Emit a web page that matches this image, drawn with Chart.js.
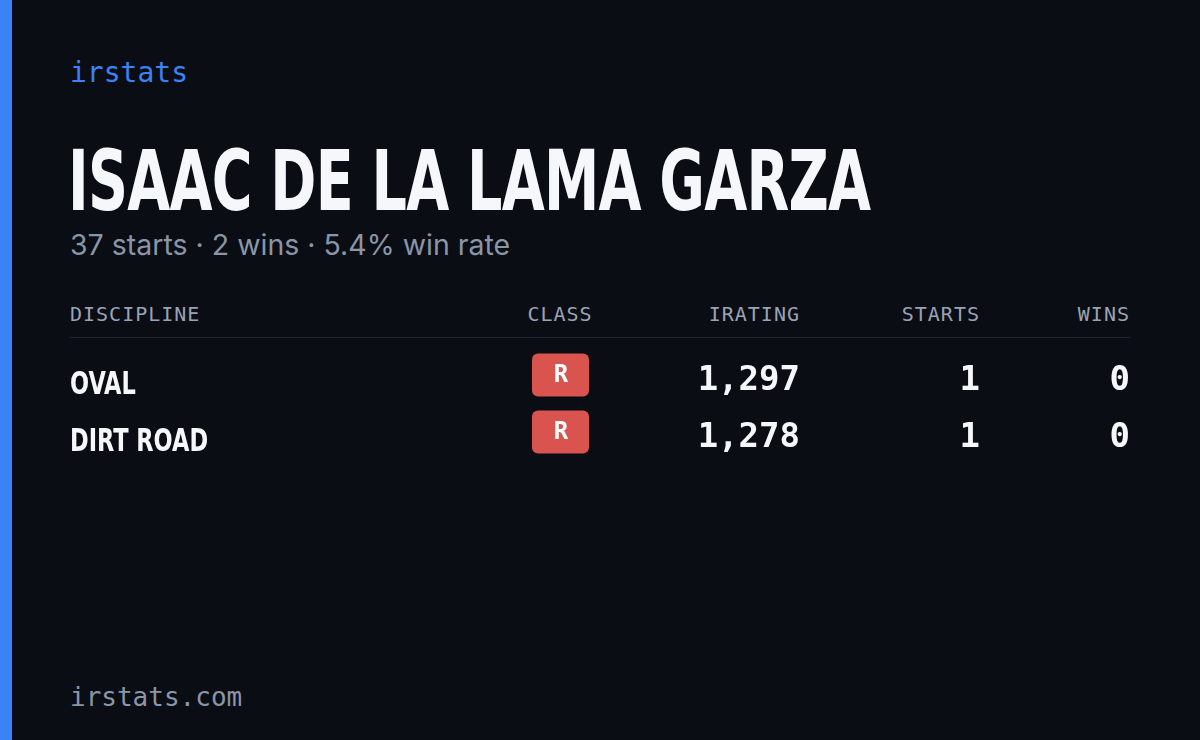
<!DOCTYPE html>
<html>
<head>
<meta charset="utf-8">
<script src="https://cdn.jsdelivr.net/npm/chart.js@4"></script>
<style>
  body { margin: 0; width: 1200px; height: 740px; background: #0a0d14; position: relative; overflow: hidden; font-family: Inter, sans-serif; }
  .bar { position: absolute; left: 0; top: 0; width: 12px; height: 740px; background: #3b82f6; }
  .brand { position: absolute; left: 70px; top: 56px; font: 28px "DejaVu Sans Mono", monospace; color: #3b82f6; }
  .title { position: absolute; left: 68px; top: 132px; font: bold 84px "DejaVu Sans", sans-serif; font-stretch: condensed; color: #f5f7fb; transform: scaleX(0.735); transform-origin: left top; white-space: nowrap; letter-spacing: -1px; }
  .sub { position: absolute; left: 70px; top: 227px; font: 28.5px Inter, sans-serif; color: #8b95a8; }
  .hdr { position: absolute; top: 302px; font: 20px "DejaVu Sans Mono", monospace; color: #9aa3b5; letter-spacing: 1px; }
  .rule { position: absolute; left: 70px; top: 337px; width: 1060px; height: 1px; background: #1f2430; }
  .foot { position: absolute; left: 70px; top: 682px; font: 26px "DejaVu Sans Mono", monospace; color: #8b95a8; }
  #wrap { position: absolute; left: 70px; top: 351px; width: 1060px; height: 114px; }
</style>
</head>
<body>
<div class="bar"></div>
<div class="brand">irstats</div>
<div class="title">ISAAC DE LA LAMA GARZA</div>
<div class="sub">37 starts · 2 wins · 5.4% win rate</div>
<div class="hdr" style="left:70px">DISCIPLINE</div>
<div class="hdr" style="left:490px;width:140px;text-align:center">CLASS</div>
<div class="hdr" style="right:400px">IRATING</div>
<div class="hdr" style="right:220px">STARTS</div>
<div class="hdr" style="right:70px">WINS</div>
<div class="rule"></div>
<div class="foot">irstats.com</div>
<div id="wrap"><canvas id="c"></canvas></div>
<script>
// ---------- data ----------
const disciplines = ["OVAL", "DIRT ROAD"];
const classes = ["R", "R"];
const iratings = [1297, 1278];
const starts = [1, 1];
const wins = [0, 0];

// column anchors in x-scale units (layout)
const COL = { name: 0, cls: 490, ir: 730, st: 910, wn: 1060 };

function fmt(n) {
  return n.toString().replace(/\B(?=(\d{3})+(?!\d))/g, ",");
}

const tablePlugin = {
  id: "table",
  afterDraw(chart) {
    const ctx = chart.ctx;
    const xs = chart.scales.x, ys = chart.scales.y;
    ctx.save();
    ctx.textBaseline = "middle";
    disciplines.forEach((d, i) => {
      const y = ys.getPixelForValue(i);
      // discipline
      ctx.fillStyle = "#f5f7fb";
      ctx.textAlign = "left";
      ctx.font = "bold 32px 'DejaVu Sans Condensed', 'DejaVu Sans', sans-serif";
      ctx.save();
      ctx.translate(xs.getPixelForValue(COL.name), y + 6);
      ctx.scale(0.78, 1);
      ctx.fillText(d, 0, 0);
      ctx.restore();
      // class badge
      const cx = xs.getPixelForValue(COL.cls);
      ctx.fillStyle = "#d9534f";
      ctx.beginPath();
      ctx.roundRect(cx - 28, y - 26, 57, 43, 6);
      ctx.fill();
      ctx.fillStyle = "#ffffff";
      ctx.textAlign = "center";
      ctx.font = "bold 24px 'DejaVu Sans Mono', monospace";
      ctx.fillText(classes[i], cx + 1, y - 4);
      // numbers
      ctx.fillStyle = "#f5f7fb";
      ctx.textAlign = "right";
      ctx.font = "bold 34px 'DejaVu Sans Mono', monospace";
      ctx.fillText(fmt(iratings[i]), xs.getPixelForValue(COL.ir), y + 2);
      ctx.fillText(String(starts[i]), xs.getPixelForValue(COL.st), y + 2);
      ctx.fillText(String(wins[i]), xs.getPixelForValue(COL.wn), y + 2);
    });
    ctx.restore();
  }
};

new Chart(document.getElementById("c"), {
  type: "scatter",
  data: {
    labels: disciplines,
    datasets: [{ data: disciplines.map((d, i) => ({ x: COL.name, y: i })), pointRadius: 0 }]
  },
  options: {
    responsive: true,
    maintainAspectRatio: false,
    animation: false,
    layout: { padding: 0 },
    plugins: { legend: { display: false }, tooltip: { enabled: false } },
    scales: {
      x: { type: "linear", min: 0, max: 1060, display: false },
      y: { type: "category", labels: [0, 1], offset: true, display: false }
    }
  },
  plugins: [tablePlugin]
});
</script>
</body>
</html>
